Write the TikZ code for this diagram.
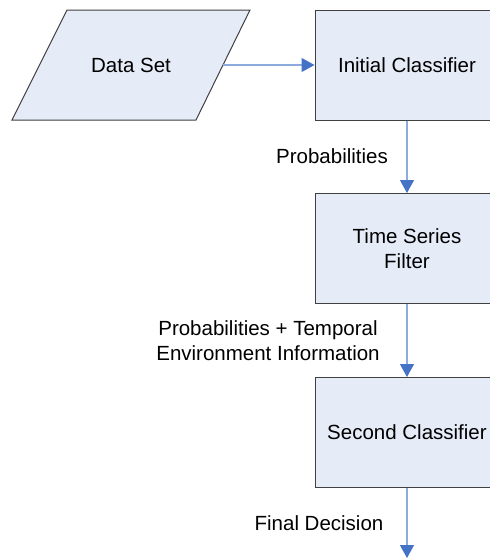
\documentclass[tikz,border=0pt]{standalone}
\usepackage{fontspec}
\setmainfont{Liberation Sans}
\usetikzlibrary{arrows.meta}
\definecolor{boxfill}{HTML}{E6ECF7}
\definecolor{boxline}{HTML}{404040}
\definecolor{arrline}{HTML}{8FAADC}
\definecolor{arrtip}{HTML}{4472C4}
\tikzset{
  procbox/.style={draw=boxline, fill=boxfill, line width=1pt, minimum width=184pt, minimum height=110pt, inner sep=0pt, font=\fontsize{20.5}{25}\selectfont, align=center},
  flow/.style={draw=arrline, line width=1.2pt, -{Triangle[length=13pt,width=14pt,color=arrtip]}},
  lbl/.style={font=\fontsize{20.5}{25}\selectfont, align=center, inner sep=0pt}
}
\begin{document}
\begin{tikzpicture}[x=1pt,y=-1pt]
\useasboundingbox (0,0) rectangle (490,558);
\clip (0,0) rectangle (490,558);
\fill[white] (0,0) rectangle (490,558);
% parallelogram
\path[draw=boxline, fill=boxfill, line width=1pt] (67,10) -- (250,10) -- (196,120) -- (12,120) -- cycle;
\node[lbl] (ds) at (131,65) {Data Set};
\coordinate (dsr) at (223,65);
\node[procbox] (ic) at (407,65) {Initial Classifier};
\node[procbox] (tsf) at (407,248.5) {Time Series\\Filter};
\node[procbox] (sc) at (407,432.5) {Second Classifier};
\coordinate (out) at (407,558);
\draw[flow] (dsr) -- (ic.west);
\draw[flow] (ic.south) -- (tsf.north);
\draw[flow] (tsf.south) -- (sc.north);
\draw[flow] (sc.south) -- (out);
\node[lbl] (l1) at (332,156) {Probabilities};
\node[lbl] (l2) at (268,340.5) {Probabilities + Temporal\\Environment Information};
\node[lbl] (l3) at (319,523) {Final Decision};
\end{tikzpicture}
\end{document}
